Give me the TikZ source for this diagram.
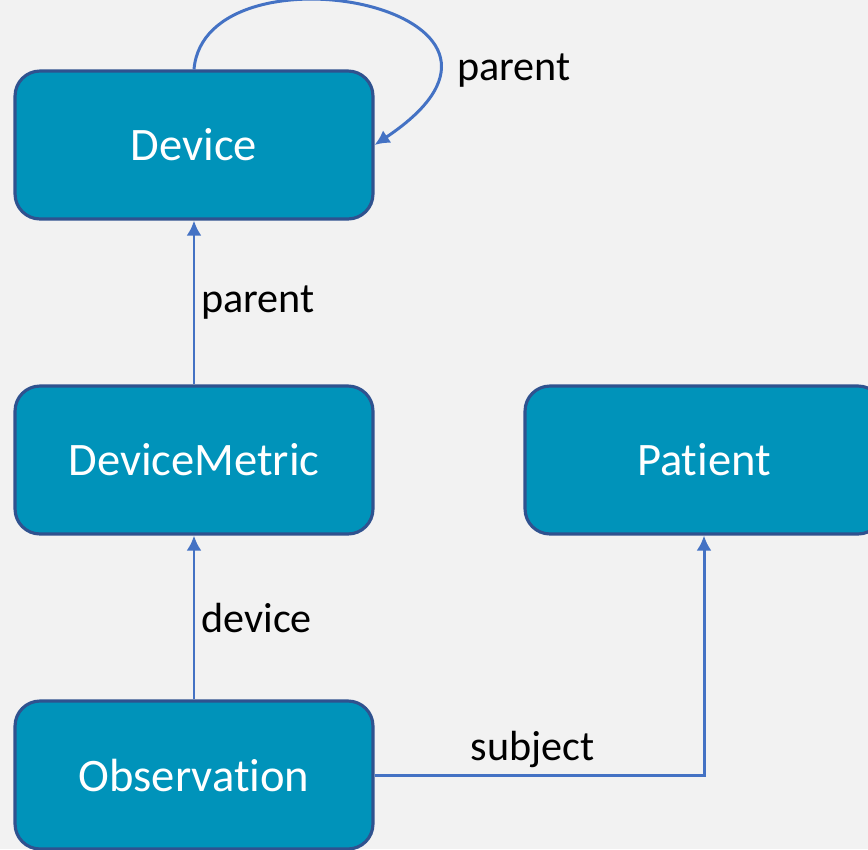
\documentclass[tikz,border=0pt]{standalone}
\usepackage{fontspec}
\setmainfont{Carlito}[Ligatures=CommonOff]
\usetikzlibrary{arrows.meta}
\definecolor{bgcol}{HTML}{F2F2F2}
\definecolor{boxfill}{HTML}{0093BA}
\definecolor{boxline}{HTML}{2F528F}
\definecolor{linkcol}{HTML}{4472C4}
\tikzset{
  res/.style={draw=boxline, line width=1.8pt, fill=boxfill, rounded corners=0.5cm,
    minimum width=7.16cm, minimum height=2.96cm, text=white,
    font=\fontsize{26.5}{30}\selectfont},
  ref/.style={draw=linkcol, line width=1.7pt, -{Latex[length=0.3cm,width=0.3cm]}},
  lbl/.style={font=\fontsize{24}{28}\selectfont, text=black}
}
\begin{document}
\begin{tikzpicture}[x=0.02cm, y=-0.02cm]
  \fill[bgcol] (0,0) rectangle (868,849);
  \useasboundingbox (0,0) rectangle (868,849);
       \node[res] (dev) at (194,145) {Device};
       \node[res] (met) at (194,460) {DeviceMetric};
\node[res] (pat) at (704,460) {Patient};
\node[res] (obs) at (194,775) {Observation};
  % references
  \draw[ref] (dev.north) .. controls (205,-62) and (580,8) .. (dev.east)
     node[lbl, pos=0.78, right, xshift=8pt, yshift=-3pt] {parent};
  \draw[ref] (met) -- (dev) node[lbl, midway, right] {parent};
  \draw[ref] (obs) -- (met) node[lbl, midway, right] {device};
  \draw[ref] (obs.east) -| (pat.south) node[lbl, pos=0.24, above] {subject};
    \end{tikzpicture}
\end{document}
